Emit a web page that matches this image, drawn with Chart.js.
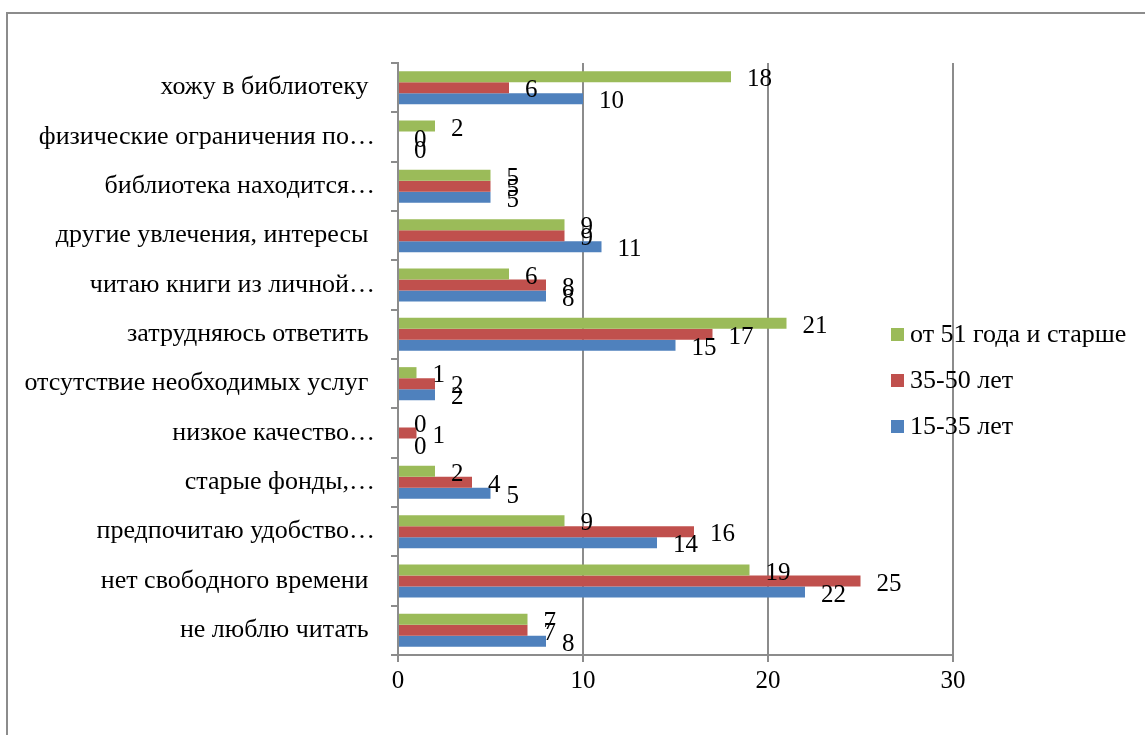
<!DOCTYPE html>
<html>
<head>
<meta charset="utf-8">
<script src="https://cdn.jsdelivr.net/npm/chart.js@4"></script>
<style>
  html, body { margin: 0; padding: 0; background: #fff; }
  #wrap { position: relative; width: 1145px; height: 735px; }
  #frame { position: absolute; left: 6px; top: 12px; width: 1200px; height: 800px;
           border-left: 2px solid #8c8c8c; border-top: 2px solid #8c8c8c; }
  canvas { position: absolute; left: 0; top: 0; }
</style>
</head>
<body>
<div id="wrap">
  <div id="frame"></div>
  <canvas id="myChart" width="1145" height="735"></canvas>
</div>
<script>
// категории сверху вниз
const categories = [
  "хожу в библиотеку ",
  "физические ограничения по…",
  "библиотека находится…",
  "другие увлечения, интересы ",
  "читаю книги из личной…",
  "затрудняюсь ответить ",
  "отсутствие необходимых услуг ",
  "низкое качество…",
  "старые фонды,…",
  "предпочитаю удобство…",
  "нет свободного времени ",
  "не люблю читать "
];
const seriesNames = ["от 51 года и старше", "35-50 лет", "15-35 лет"];
const olderValues  = [18, 2, 5, 9, 6, 21, 1, 0, 2, 9, 19, 7];
const middleValues = [6, 0, 5, 9, 8, 17, 2, 1, 4, 16, 25, 7];
const youngValues  = [10, 0, 5, 11, 8, 15, 2, 0, 5, 14, 22, 8];
const xTicks = [0, 10, 20, 30];

const FONT = "'Liberation Serif', 'Times New Roman', serif";
const colors = ["#9BBB59", "#C0504D", "#4F81BD"];

// подписи значений справа от столбцов
const valueLabels = {
  id: "valueLabels",
  afterDatasetsDraw(chart) {
    const ctx = chart.ctx;
    ctx.save();
    ctx.font = "25px " + FONT;
    ctx.fillStyle = "#000";
    ctx.textAlign = "left";
    ctx.textBaseline = "middle";
    chart.data.datasets.forEach((ds, i) => {
      chart.getDatasetMeta(i).data.forEach((bar, j) => {
        ctx.fillText(String(ds.data[j]), bar.x + 16, bar.y + 3);
      });
    });
    ctx.restore();
  }
};

// легенда поверх области графика, как в оригинале
const sideLegend = {
  id: "sideLegend",
  afterDraw(chart) {
    const ctx = chart.ctx;
    ctx.save();
    ctx.font = "26px " + FONT;
    ctx.textBaseline = "middle";
    ctx.textAlign = "left";
    chart.data.datasets.forEach((ds, i) => {
      const y = 334 + i * 46;
      ctx.fillStyle = ds.backgroundColor;
      ctx.fillRect(891, y - 6, 13, 13);
      ctx.fillStyle = "#000";
      ctx.fillText(ds.label, 910, y + 1);
    });
    ctx.restore();
  }
};

const ctx = document.getElementById("myChart").getContext("2d");
const myChart = new Chart(ctx, {
  type: "bar",
  data: {
    labels: categories,
    datasets: [
      { label: seriesNames[0], data: olderValues,  backgroundColor: colors[0] },
      { label: seriesNames[1], data: middleValues, backgroundColor: colors[1] },
      { label: seriesNames[2], data: youngValues,  backgroundColor: colors[2] }
    ]
  },
  options: {
    indexAxis: "y",
    responsive: false,
    animation: false,
    events: [],
    layout: { padding: { left: 0, top: 63, right: 192, bottom: 0 } },
    datasets: {
      bar: { categoryPercentage: 0.67, barPercentage: 1.0, borderWidth: 0 }
    },
    plugins: {
      legend: { display: false },
      tooltip: { enabled: false }
    },
    scales: {
      x: {
        min: 0,
        max: 30,
        afterBuildTicks(scale) { scale.ticks = xTicks.map(v => ({ value: v })); },
        afterFit(scale) { scale.height = 80; },
        grid: { color: "#8c8c8c", lineWidth: 2, tickLength: 7, drawTicks: true },
        border: { color: "#8c8c8c", width: 2 },
        ticks: { color: "#000", font: { family: FONT, size: 25 }, padding: 4 }
      },
      y: {
        afterFit(scale) { scale.width = 398; },
        grid: { offset: true, drawOnChartArea: false, color: "#8c8c8c", lineWidth: 2, tickLength: 7 },
        border: { color: "#8c8c8c", width: 2 },
        ticks: { color: "#000", font: { family: FONT, size: 26 }, padding: 16, autoSkip: false }
      }
    }
  },
  plugins: [valueLabels, sideLegend]
});
</script>
</body>
</html>
